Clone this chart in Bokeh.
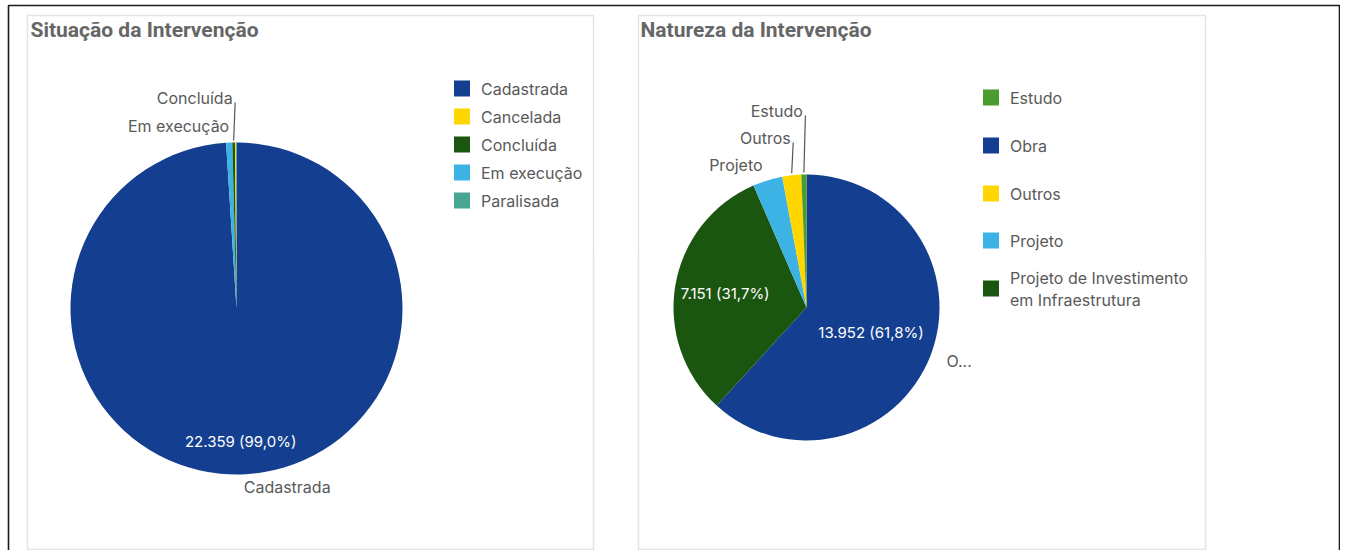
import math
from bokeh.plotting import figure
from bokeh.models import Range1d
from bokeh.core.properties import value
from bokeh.embed import file_html
from bokeh.resources import INLINE

# ---------------- data ----------------
sit_title = "Situação da Intervenção"
sit_categories = ["Cadastrada", "Cancelada", "Concluída", "Em execução", "Paralisada"]
sit_values = [22359, 22, 56, 136, 12]

nat_title = "Natureza da Intervenção"
nat_categories = ["Estudo", "Obra", "Outros", "Projeto", "Projeto de Investimento em Infraestrutura"]
nat_values = [141, 13952, 519, 813, 7151]

# ---------------- styles ----------------
sit_colors = {"Cadastrada": "#143e8f", "Cancelada": "#ffd600", "Concluída": "#1b5611",
              "Em execução": "#3db3e5", "Paralisada": "#46a693"}
nat_colors = {"Estudo": "#4a9c2e", "Obra": "#143e8f", "Outros": "#ffd600",
              "Projeto": "#3db3e5", "Projeto de Investimento em Infraestrutura": "#1b5611"}

FONT = value("Inter")
TXT = "#595959"
W, H = 1340, 550


def Y(py):
    return H - py


p = figure(width=W, height=H, x_range=Range1d(0, W), y_range=Range1d(0, H),
           output_backend="svg", toolbar_location=None, min_border=0,
           x_axis_type=None, y_axis_type=None)
p.grid.visible = False
p.outline_line_color = None
p.background_fill_color = "white"

# outer document frame (top, left, right)
p.line([8, 8, 1339, 1339], [Y(560), Y(5), Y(5), Y(560)], line_color="#1a1a1a", line_width=1.6)

# panel boxes
p.quad(left=[27, 638], right=[593, 1205], top=[Y(15), Y(15)], bottom=[Y(549), Y(549)],
       fill_color="white", line_color="#e1e4e8", line_width=1.5)


def fmt_num(v):
    return f"{v:,}".replace(",", ".")


def fmt_pct(f):
    return f"{f * 100:.1f}%".replace(".", ",")


def draw_pie(cats, vals, colors, cx, cy, r, inner, outer, small):
    order = sorted(range(len(vals)), key=lambda i: -vals[i])
    total = float(sum(vals))
    cum = 0.0
    xs, ys, st, en, cols = [], [], [], [], []
    geo = {}
    for i in order:
        f = vals[i] / total
        c0, c1 = cum, cum + f
        cum = c1
        xs.append(cx); ys.append(Y(cy))
        st.append(math.pi / 2 - 2 * math.pi * c1)
        en.append(math.pi / 2 - 2 * math.pi * c0)
        cols.append(colors[cats[i]])
        mid = math.pi / 2 - 2 * math.pi * (c0 + c1) / 2
        geo[cats[i]] = (mid, f, vals[i])
    p.wedge(x=xs, y=ys, radius=r, start_angle=st, end_angle=en, direction="anticlock",
            fill_color=cols, line_color=None)
    # inner labels
    for cat, frac in inner:
        mid, f, v = geo[cat]
        lx = cx + r * frac * math.cos(mid)
        ly = cy - r * frac * math.sin(mid)
        p.text(x=[lx], y=[Y(ly)], text=[f"{fmt_num(v)} ({fmt_pct(f)})"], text_align="center",
               text_baseline="middle", text_font=FONT, text_font_size="15px", text_color="white")
    # outer labels
    for cat, txt, dx, dy in outer:
        mid, f, v = geo[cat]
        ex = cx + r * math.cos(mid)
        ey = cy - r * math.sin(mid)
        p.text(x=[ex + dx], y=[Y(ey + dy)], text=[txt], text_align="left",
               text_baseline="middle", text_font=FONT, text_font_size="16px", text_color=TXT)
    # small-slice labels stacked above
    for cat, ly, leader, dx in small:
        mid, f, v = geo[cat]
        ex = cx + r * math.cos(mid)
        ey = cy - r * math.sin(mid)
        if leader:
            p.line([ex, ex + 1.5], [Y(ey - 2), Y(ly + 5)], line_color="#555555", line_width=1.2)
        p.text(x=[ex + dx], y=[Y(ly)], text=[cat], text_align="right", text_baseline="middle",
               text_font=FONT, text_font_size="16px", text_color=TXT)


def draw_legend(cats, colors, sx, ys_list):
    for cat, ly in zip(cats, ys_list):
        lines = cat.split("\n")
        key = cat.replace("\n", " ")
        p.rect(x=[sx], y=[Y(ly)], width=16, height=16, fill_color=colors[key], line_color=None)
        for k, ln in enumerate(lines):
            off = 0 if len(lines) == 1 else (-11 + 22 * k)
            p.text(x=[sx + 19], y=[Y(ly + off)], text=[ln], text_align="left",
                   text_baseline="middle", text_font=FONT, text_font_size="16px", text_color=TXT)


# titles
p.text(x=[30, 640], y=[Y(29), Y(29)], text=[sit_title, nat_title], text_align="left",
       text_baseline="middle", text_font=value("Roboto"), text_font_size="21px",
       text_font_style="bold", text_color="#666666")

# left pie
draw_pie(sit_categories, sit_values, sit_colors, 236, 308, 166,
         inner=[("Cadastrada", 0.8)],
         outer=[("Cadastrada", "Cadastrada", 2, 13)],
         small=[("Em execução", 125, False, 0), ("Concluída", 97, True, -1)])

# right pie
draw_pie(nat_categories, nat_values, nat_colors, 806, 307, 133,
         inner=[("Obra", 0.52), ("Projeto de Investimento em Infraestrutura", 0.62)],
         outer=[("Obra", "O...", 16, 5)],
         small=[("Projeto", 164, False, -5), ("Outros", 137, True, -1), ("Estudo", 110, True, -1)])

# legends
draw_legend(sit_categories, sit_colors, 461.5, [88, 116, 144, 172, 200])
nat_leg = nat_categories[:4] + ["Projeto de Investimento\nem Infraestrutura"]
draw_legend(nat_leg, nat_colors, 990.5, [97, 145, 193, 240, 288])

open("out.html", "w").write(file_html(p, INLINE))
